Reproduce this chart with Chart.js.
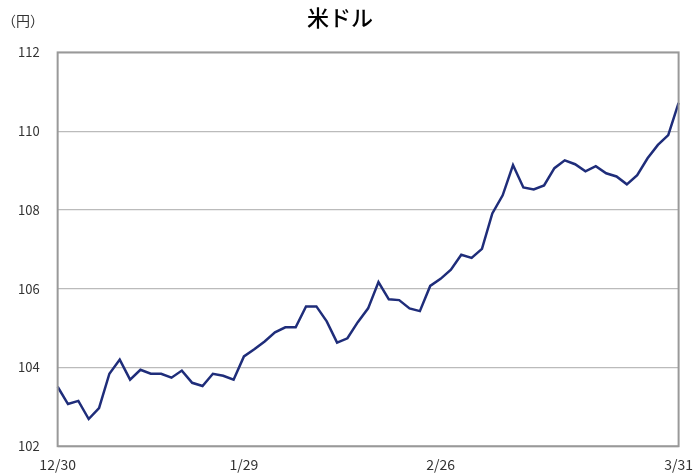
<!DOCTYPE html>
<html><head><meta charset="utf-8">
<script src="https://cdn.jsdelivr.net/npm/chart.js@4"></script>
<style>html,body{margin:0;padding:0;background:#fff}#w{width:695px;height:475px}</style>
</head><body><div id="w"><canvas id="c"></canvas></div>
<script>
const dates = ['12/30','','','','','','','','','','','','','','','','','','1/29','','','','','','','','','','','','','','','','','','','2/26','','','','','','','','','','','','','','','','','','','','','','','3/31'];
const usdJpy = [103.51,103.07,103.15,102.69,102.97,103.84,104.20,103.69,103.94,103.84,103.84,103.74,103.92,103.61,103.53,103.84,103.79,103.69,104.28,104.46,104.66,104.89,105.02,105.02,105.55,105.55,105.17,104.63,104.74,105.15,105.50,106.17,105.73,105.71,105.50,105.43,106.07,106.25,106.48,106.86,106.78,107.01,107.91,108.37,109.14,108.57,108.52,108.62,109.06,109.26,109.16,108.98,109.11,108.93,108.85,108.65,108.88,109.31,109.65,109.90,110.72];
const yTicks = [102,104,106,108,110,112];
const FONT = "'Noto Sans CJK JP', 'Noto Sans', sans-serif";
const frame = {id:'frame', afterDatasetsDraw(ch){const a=ch.chartArea,c=ch.ctx;c.save();c.strokeStyle='#999';c.lineWidth=2;c.strokeRect(a.left,a.top,a.right-a.left,a.bottom-a.top);
c.fillStyle='#333';c.font="14px "+FONT;c.textAlign='left';c.textBaseline='middle';c.fillText('（円）',2,21);c.restore();}};
new Chart(document.getElementById('c'),{type:'line',
data:{labels:dates,datasets:[{data:usdJpy,borderColor:'#1f2d7a',borderWidth:2.5,pointRadius:0,tension:0}]},
options:{responsive:true,maintainAspectRatio:false,animation:false,
layout:{padding:{left:0,right:15,top:0,bottom:0}},
plugins:{legend:{display:false},tooltip:{enabled:false},
title:{display:true,text:'米ドル',color:'#000',font:{family:FONT,size:22,weight:'500'},padding:{top:4,bottom:22}}},
scales:{x:{offset:false,grid:{display:false},border:{display:false},
ticks:{autoSkip:false,maxRotation:0,color:'#333',font:{family:FONT,size:14},padding:2,callback:(v,i)=>dates[i]}},
y:{min:102,max:112,afterBuildTicks:ax=>{ax.ticks=yTicks.map(v=>({value:v}));},
grid:{color:'#bbb',lineWidth:1.2,drawTicks:false},border:{display:false},
ticks:{color:'#333',font:{family:FONT,size:13},padding:18}}}},
plugins:[frame]});
</script></body></html>
